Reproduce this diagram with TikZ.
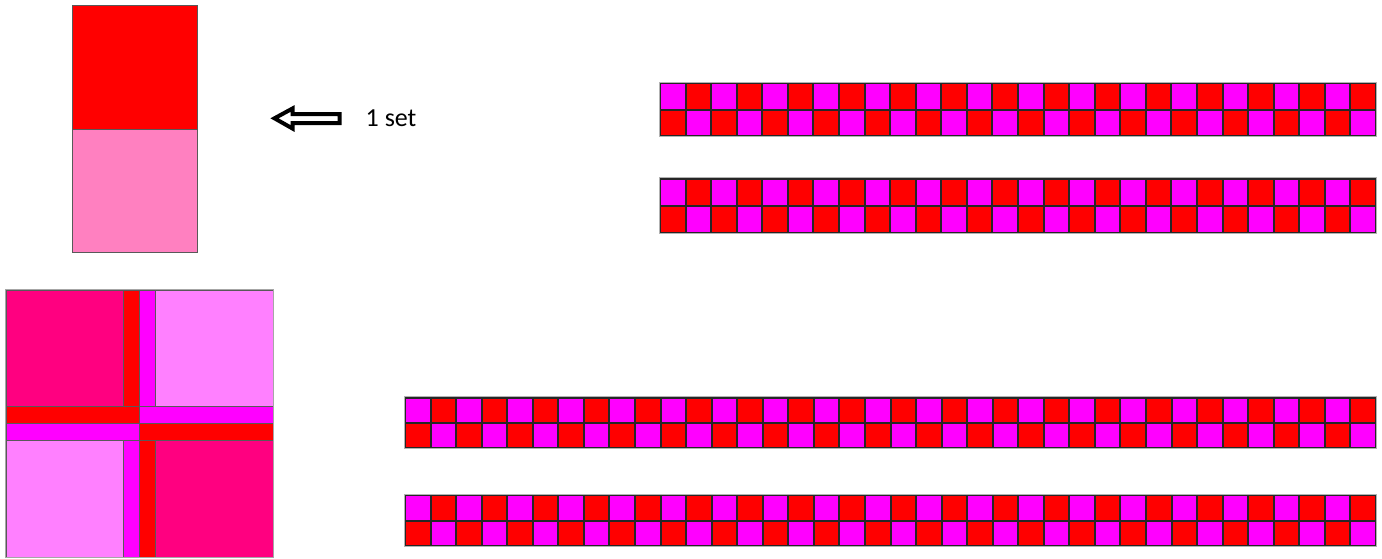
\documentclass[tikz,border=0pt]{standalone}
\usepackage{fontspec}
\setmainfont{Carlito}
\definecolor{qred}{HTML}{FF0000}
\definecolor{qmag}{HTML}{FF00FF}
\definecolor{qdeep}{HTML}{FF0080}
\definecolor{qlight}{HTML}{FF80FF}
\definecolor{qpink}{HTML}{FF80C0}
\tikzset{
  cell/.style={draw=black!85, line width=2pt},
  stripedge/.style={draw=gray!60, line width=1pt},
  patch/.style={draw=black!65, line width=0.8pt},
  blockedge/.style={draw=gray!70, line width=1.4pt},
}
\newcommand{\qstrip}[5]{%
  \begin{scope}[shift={(#1,#2)}]
    \pgfmathsetmacro{\cw}{#4/#3}
    \pgfmathtruncatemacro{\nn}{#3-1}
    \foreach \i in {0,...,\nn} {
      \pgfmathtruncatemacro{\pp}{mod(\i,2)}
      \ifnum\pp=0 \def\ca{qmag}\def\cb{qred}\else\def\ca{qred}\def\cb{qmag}\fi
      \filldraw[cell, fill=\ca] ({\i*\cw},0) rectangle ({(\i+1)*\cw},{#5/2});
      \filldraw[cell, fill=\cb] ({\i*\cw},{#5/2}) rectangle ({(\i+1)*\cw},#5);
    }
    \draw[stripedge] (-0.8,-0.8) rectangle ({#4+0.8},{#5+0.8});
  \end{scope}}
\begin{document}
\begin{tikzpicture}[x=1pt,y=-1pt]
\useasboundingbox (0,0) rectangle (1382,558);
% two-patch set
\filldraw[patch, fill=qred] (72.5,5) rectangle (197,129.5);
\filldraw[patch, fill=qpink] (72.5,129.5) rectangle (197,252.5);
% hollow arrow
\draw[line width=4pt, fill=white, line join=miter]
  (274.5,118.3) -- (292.5,108.5) -- (292.5,114) -- (339.5,114) -- (339.5,123)
  -- (292.5,123) -- (292.5,128.5) -- cycle;
\node[anchor=west, font=\fontsize{26}{30}\selectfont, inner sep=0pt] (label) at (365.5,118.3) {1 set};
% strips
\qstrip{660}{83}{28}{716}{53}
\qstrip{660}{178.5}{28}{716}{54}
\qstrip{405}{397.5}{38}{971}{50}
\qstrip{405}{495}{38}{971}{51}
% quilt block
\filldraw[patch, fill=qdeep] (6,290) rectangle (123,406.7);
\filldraw[patch, fill=qred] (123,290) rectangle (139.3,406.7);
\filldraw[patch, fill=qmag] (139.3,290) rectangle (155.7,406.7);
\filldraw[patch, fill=qlight] (155.7,290) rectangle (273,406.7);
\filldraw[patch, fill=qred] (6,406.7) rectangle (139.3,423.7);
\filldraw[patch, fill=qmag] (139.3,406.7) rectangle (273,423.7);
\filldraw[patch, fill=qmag] (6,423.7) rectangle (139.3,440.3);
\filldraw[patch, fill=qred] (139.3,423.7) rectangle (273,440.3);
\filldraw[patch, fill=qlight] (6,440.3) rectangle (123,557);
\filldraw[patch, fill=qmag] (123,440.3) rectangle (139.3,557);
\filldraw[patch, fill=qred] (139.3,440.3) rectangle (155.7,557);
\filldraw[patch, fill=qdeep] (155.7,440.3) rectangle (273,557);
\draw[blockedge] (5.3,289.3) rectangle (273.7,557.3);
\end{tikzpicture}
\end{document}
